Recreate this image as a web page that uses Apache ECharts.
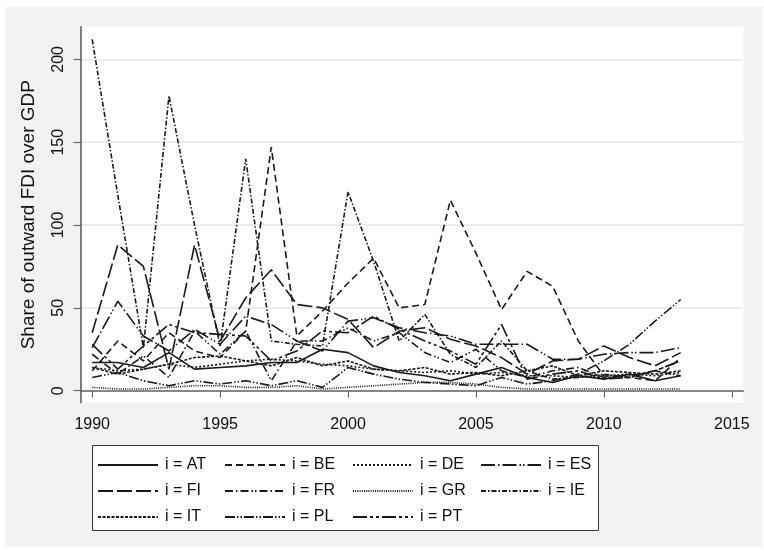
<!DOCTYPE html>
<html>
<head>
<meta charset="utf-8">
<script src="https://cdn.jsdelivr.net/npm/echarts@6/dist/echarts.min.js"></script>
<style>
html,body{margin:0;padding:0;background:#fff;}
#chart{width:764px;height:553px;}
</style>
</head>
<body>
<div id="chart"></div>
<script>
const years = [1990,1991,1992,1993,1994,1995,1996,1997,1998,1999,2000,2001,2002,2003,2004,2005,2006,2007,2008,2009,2010,2011,2012,2013];
const xTicks = [1990,1995,2000,2005,2010,2015];
const yTicks = [0,50,100,150,200];

const AT = [17,17,14,23,13,14,15,17,17,25,23,15,11,9,6,10,14,8,5,9,7,10,6,9];
const BE = [12,30,18,35,24,20,36,147,33,48,65,80,50,52,115,83,49,72,63,30,9,8,6,20];
const DE = [14,12,13,16,14,16,18,19,18,16,15,13,12,11,12,10,11,9,9,8,9,10,9,11];
const ES = [26,54,33,24,37,28,45,40,30,24,42,44,38,35,33,28,28,28,19,19,22,23,23,26];
const FI = [35,88,75,13,88,30,56,73,52,50,43,26,36,38,31,27,20,10,18,19,27,20,15,23];
const FR = [22,10,21,8,36,22,36,6,30,30,38,30,35,23,17,25,12,8,12,14,8,9,12,18];
const GR = [2,1,1,2,3,3,2,2,3,1,2,3,4,5,5,4,2,1,1,1,1,1,1,1];
const IE = [212,118,26,178,100,27,140,30,28,27,120,78,30,46,22,14,30,12,7,8,10,8,12,9];
const IT = [14,10,13,16,20,21,18,15,20,15,18,13,12,14,10,11,9,12,15,9,12,11,10,12];
const PL = [8,11,6,3,6,4,6,3,6,2,14,10,7,5,4,3,8,4,6,10,18,28,42,55];
const PT = [28,13,27,40,35,34,33,18,24,36,35,45,37,30,24,16,40,7,10,12,7,8,12,18];

const seriesDefs = [
  {name:'i = AT', vals:AT, dash:'solid'},
  {name:'i = BE', vals:BE, dash:[7,4]},
  {name:'i = DE', vals:DE, dash:[2,2]},
  {name:'i = ES', vals:ES, dash:[14,3,1.5,3,14,3,1.5,2,1.5,3]},
  {name:'i = FI', vals:FI, dash:[15,4]},
  {name:'i = FR', vals:FR, dash:[8,3,1.5,3,8,3,1.5,2,1.5,3]},
  {name:'i = GR', vals:GR, dash:[1,1.2]},
  {name:'i = IE', vals:IE, dash:[5,2,1.5,2]},
  {name:'i = IT', vals:IT, dash:[3,1.5]},
  {name:'i = PL', vals:PL, dash:[10,2,1.5,2,1.5,2]},
  {name:'i = PT', vals:PT, dash:[14,3,3,3,3,3]}
];

const FONT = "'Liberation Sans', Arial, sans-serif";
const lineColor = '#1a1a1a';

const legendCols = [97,224,352,480];
const legendRows = [457,483,509];
const legends = seriesDefs.map((s,i)=>({
  data:[s.name],
  left: legendCols[i%4],
  top: legendRows[Math.floor(i/4)],
  orient:'horizontal',
  padding:0,
  itemWidth:60,
  itemHeight:14,
  selectedMode:false,
  itemStyle:{opacity:0},
  textStyle:{fontFamily:FONT,fontSize:16,color:'#111',lineHeight:16,padding:[0,0,0,2]}
}));

const chart = echarts.init(document.getElementById('chart'), null, {renderer:'canvas'});
chart.setOption({
  animation:false,
  backgroundColor:'#fff',
  graphic:[
    {type:'rect',z:-10,shape:{x:5,y:7,width:758,height:540},style:{fill:'#f2f2f2'}},
    {type:'rect',z:-5,shape:{x:92.5,y:445.5,width:506,height:85},style:{fill:'#fff',stroke:'#333',lineWidth:1}}
  ],
  grid:{left:80.7,top:26.7,right:20.7,bottom:150.3,show:true,backgroundColor:'#fff',borderWidth:0,containLabel:false},
  legend:legends,
  xAxis:{
    type:'value',min:1989.55,max:2015.45,
    axisLine:{show:true,lineStyle:{color:'#666',width:1.5}},
    axisTick:{show:true,length:7,customValues:xTicks,lineStyle:{color:'#666',width:1.2}},
    axisLabel:{customValues:xTicks,margin:14,fontFamily:FONT,fontSize:16,color:'#111',formatter:v=>String(v)},
    splitLine:{show:false}
  },
  yAxis:{
    type:'value',min:-7.24,max:219.7,
    name:'Share of outward FDI over GDP',nameLocation:'middle',nameGap:42,
    nameTextStyle:{fontFamily:FONT,fontSize:19,color:'#111'},
    axisLine:{show:true,lineStyle:{color:'#555',width:1.5}},
    axisTick:{show:true,length:7,customValues:yTicks,lineStyle:{color:'#666',width:1.2}},
    axisLabel:{customValues:yTicks,rotate:90,margin:14,fontFamily:FONT,fontSize:16,color:'#111'},
    splitLine:{show:true,lineStyle:{color:'#e6e6e6',width:1.5}}
  },
  series:seriesDefs.map(s=>({
    name:s.name,type:'line',symbol:'none',showSymbol:false,
    data:years.map((y,i)=>[y,s.vals[i]]),
    lineStyle:{color:lineColor,width:1.6,type:s.dash},
    itemStyle:{color:lineColor},
    emphasis:{disabled:true}
  }))
});
</script>
</body>
</html>
